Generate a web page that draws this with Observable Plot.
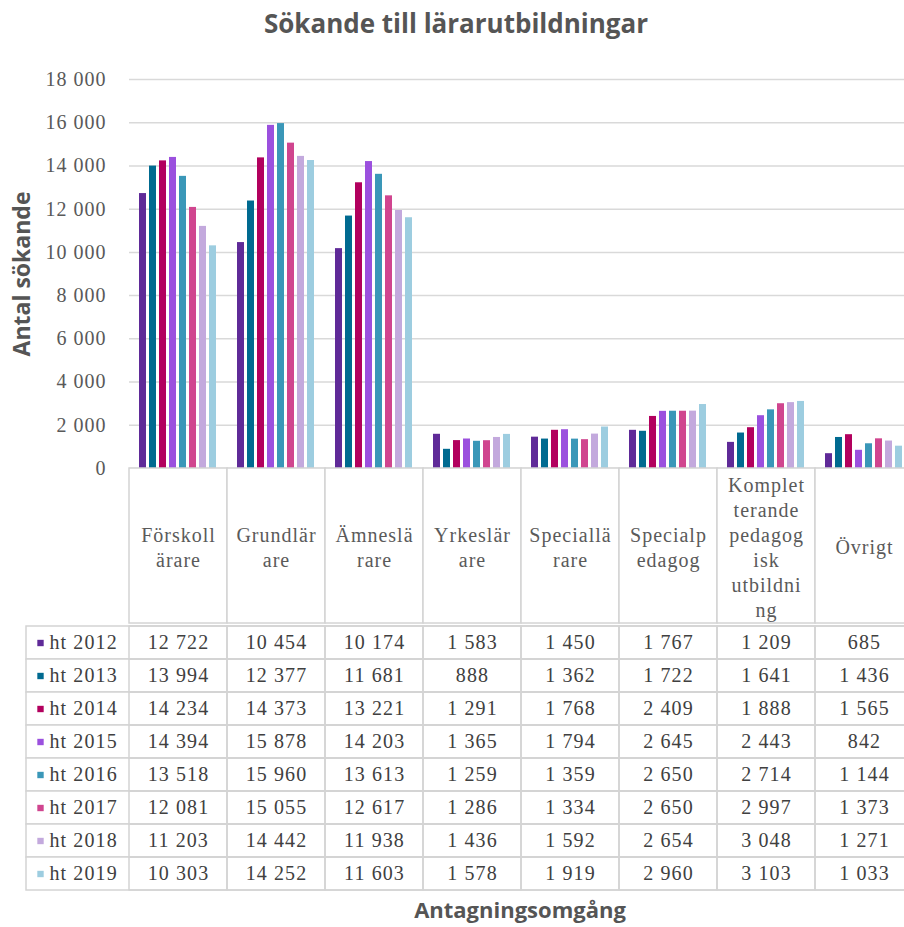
<!DOCTYPE html>
<html>
<head>
<meta charset="utf-8">
<script src="https://cdn.jsdelivr.net/npm/d3@7"></script>
<script src="https://cdn.jsdelivr.net/npm/@observablehq/plot@0.6"></script>
<style>
  html, body { margin: 0; padding: 0; background: #fff; }
  #wrap { position: relative; width: 904px; height: 927px; overflow: hidden; background: #fff; }
  #wrap > * { position: absolute; }
  #wrap svg { max-width: none !important; }
  .ttl { font-family: "Open Sans", sans-serif; font-weight: 700; color: #555; white-space: nowrap; }
  #title { left: 0; width: 912px; top: 5px; text-align: center; font-size: 26px; }
  #ylabel { left: 21px; top: 274px; font-size: 23px; transform: translate(-50%, -50%) rotate(-90deg); }
  #xlabel { left: 520px; top: 894px; font-size: 22px; line-height: 30px; transform: translateX(-50%); }
</style>
</head>
<body>
<div id="wrap">
  <div id="chart"></div>
  <div id="header"></div>
  <div id="rows"></div>
  <div id="title" class="ttl">Sökande till lärarutbildningar</div>
  <div id="ylabel" class="ttl">Antal sökande</div>
  <div id="xlabel" class="ttl">Antagningsomgång</div>
</div>
<script>
// ---- data ----
const categories = ["Förskollärare", "Grundlärare", "Ämneslärare", "Yrkeslärare", "Speciallärare", "Specialpedagog", "Kompletterande pedagogisk utbildning", "Övrigt"];
const categoryLabels = ["Förskoll\närare", "Grundlär\nare", "Ämneslä\nrare", "Yrkeslär\nare", "Speciallä\nrare", "Specialp\nedagog", "Komplet\nterande\npedagog\nisk\nutbildni\nng", "Övrigt"];
const years = ["ht 2012", "ht 2013", "ht 2014", "ht 2015", "ht 2016", "ht 2017", "ht 2018", "ht 2019"];
const ht2012 = [12722, 10454, 10174, 1583, 1450, 1767, 1209, 685];
const ht2013 = [13994, 12377, 11681, 888, 1362, 1722, 1641, 1436];
const ht2014 = [14234, 14373, 13221, 1291, 1768, 2409, 1888, 1565];
const ht2015 = [14394, 15878, 14203, 1365, 1794, 2645, 2443, 842];
const ht2016 = [13518, 15960, 13613, 1259, 1359, 2650, 2714, 1144];
const ht2017 = [12081, 15055, 12617, 1286, 1334, 2650, 2997, 1373];
const ht2018 = [11203, 14442, 11938, 1436, 1592, 2654, 3048, 1271];
const ht2019 = [10303, 14252, 11603, 1578, 1919, 2960, 3103, 1033];
const yTicks = [0, 2000, 4000, 6000, 8000, 10000, 12000, 14000, 16000, 18000];
const colors = ["#5f2a98", "#006a90", "#b2005e", "#9b50de", "#3a97b8", "#d0458f", "#c3a9dd", "#9dcde0"];

const series = [ht2012, ht2013, ht2014, ht2015, ht2016, ht2017, ht2018, ht2019];
const data = years.flatMap((yr, i) => series[i].map((v, j) => ({year: yr, category: categories[j], value: v})));
const labelOf = new Map(categories.map((c, i) => [c, categoryLabels[i]]));
const locale = d3.formatLocale({decimal: ",", thousands: "\u00a0", grouping: [3]});
const fmt = locale.format(",d");

const serif = "'Liberation Serif', serif";
const W = 915; // plot extends a little past the 904px window, as in the reference

function place(id, node, top) {
  const el = document.getElementById(id);
  el.append(node);
  el.style.cssText = `left:0;top:${top}px;width:${W}px`;
}

// ---- bar chart ----
const chart = Plot.plot({
  width: W, height: 482,
  marginLeft: 127, marginRight: 0, marginTop: 79, marginBottom: 14,
  style: {fontFamily: serif, fontSize: "20px", color: "#595959", background: "transparent", letterSpacing: "1px", maxWidth: "none"},
  fx: {domain: categories, padding: 0, axis: null},
  x: {domain: years, paddingInner: 0.27, paddingOuter: 0.93, axis: null},
  y: {domain: [0, 18000], axis: null},
  color: {domain: years, range: colors},
  marks: [
    Plot.gridY(yTicks, {stroke: "#d9d9d9", strokeOpacity: 1, strokeWidth: 1.5}),
    Plot.axisY(yTicks, {tickSize: 0, tickPadding: 23, label: null, tickFormat: d => fmt(d), fill: "#595959"}),
    Plot.barY(data, {fx: "category", x: "year", y: "value", fill: "year"})
  ]
});
place("chart", chart, 0);

// ---- table header row (category names) ----
const header = Plot.plot({
  width: W, height: 157,
  marginLeft: 127, marginRight: 0, marginTop: 1, marginBottom: 1,
  style: {fontFamily: serif, fontSize: "20px", color: "#595959", background: "transparent", letterSpacing: "1px", maxWidth: "none"},
  x: {domain: categories, padding: 0, axis: null},
  marks: [
    Plot.cell(categories, {x: d => d, fill: "white", stroke: "#d4d4d4", strokeWidth: 1.5, inset: 0}),
    Plot.text(categories, {x: d => d, text: d => labelOf.get(d), lineHeight: 1.25, fill: "#5a5a5a"})
  ]
});
place("header", header, 467);

// ---- table data rows ----
const rows = Plot.plot({
  width: W, height: 273,
  marginLeft: 26, marginRight: 0, marginTop: 1, marginBottom: 2,
  style: {fontFamily: serif, fontSize: "20px", color: "#404040", background: "transparent", letterSpacing: "1.1px", maxWidth: "none"},
  x: {type: "band", domain: categories, range: [127, W], padding: 0, axis: null},
  y: {domain: years, padding: 0, axis: null},
  color: {domain: years, range: colors},
  marks: [
    Plot.cell(years, {y: d => d, fill: "white", stroke: "#d4d4d4", strokeWidth: 1.5, inset: 0}),
    Plot.cell(data, {x: "category", y: "year", fill: "none", stroke: "#d4d4d4", strokeWidth: 1.5, inset: 0}),
    Plot.dot(years, {y: d => d, frameAnchor: "left", dx: 14, symbol: "square", r: 3.6, fill: d => d, stroke: null}),
    Plot.text(years, {y: d => d, frameAnchor: "left", dx: 23, text: d => d, textAnchor: "start", fill: "#404040"}),
    Plot.text(data, {x: "category", y: "year", text: d => fmt(d.value), fill: "#404040"})
  ]
});
place("rows", rows, 622);
</script>
</body>
</html>
